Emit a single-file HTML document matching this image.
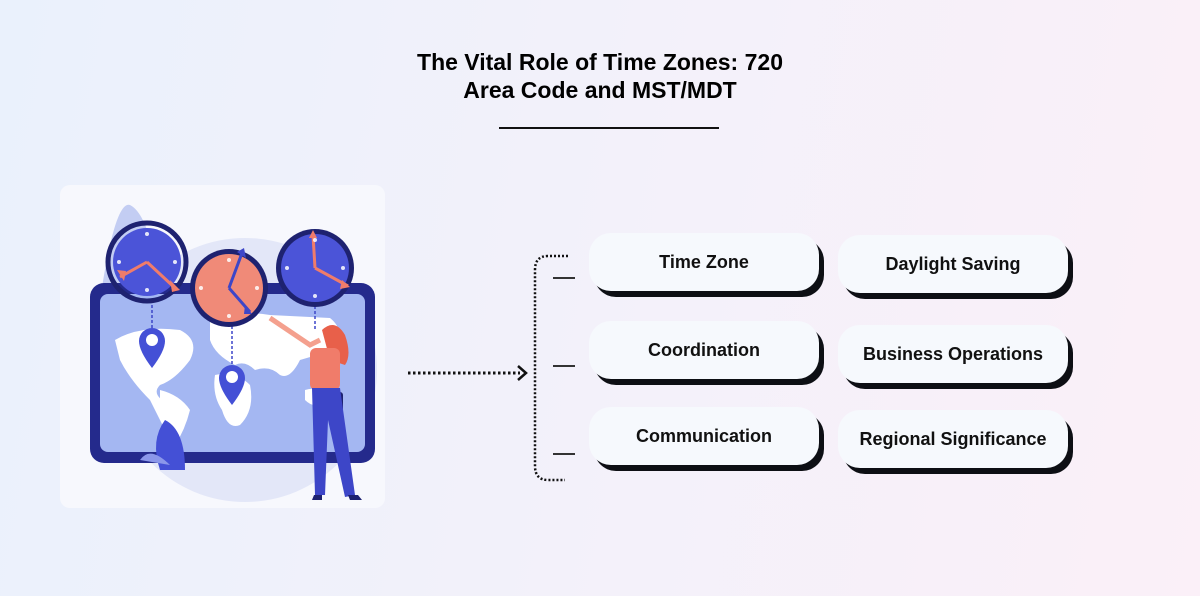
<!DOCTYPE html>
<html><head><meta charset="utf-8"><style>
html,body{margin:0;padding:0}
body{width:1200px;height:596px;position:relative;overflow:hidden;font-family:"Liberation Sans",sans-serif;
background:linear-gradient(100deg,#eaf1fc 0%,#f3f1fa 50%,#fbf0f8 100%);}
.t{position:absolute;left:0;width:1200px;text-align:center;font-weight:bold;font-size:23px;color:#000;line-height:28px;top:48px}
.ul{position:absolute;left:499px;top:127px;width:220px;height:2px;background:#111}
.card{position:absolute;left:60px;top:185px;width:325px;height:323px;background:#f7f8fd;border-radius:10px}
.b{position:absolute;width:230px;height:58px;background:#f6f9fd;border-radius:22px;box-shadow:5px 6px 0 #0d0f14;
display:flex;align-items:center;justify-content:center;font-size:18px;font-weight:bold;color:#111}
.d{position:absolute;left:553px;width:22px;height:1.5px;background:#333}
</style></head><body>
<div class="t">The Vital Role of Time Zones: 720<br>Area Code and MST/MDT</div>
<div class="ul"></div>
<div class="card"></div>
<svg style="position:absolute;left:0;top:0" width="1200" height="596">
<circle cx="245" cy="370" r="132" fill="#e3e7f8"/>
<path d="M100 300 Q115 200 130 205 Q150 215 160 290 Z" fill="#c3cdf3"/>
<rect x="90" y="283" width="285" height="180" rx="14" fill="#242a8c"/>
<rect x="100" y="294" width="265" height="158" rx="8" fill="#a4b7f2"/>
<g fill="#fff">
<path d="M115 340 Q140 325 180 330 Q200 340 190 360 Q175 380 160 385 Q150 395 170 405 Q185 420 170 440 Q160 420 150 400 Q130 380 120 360 Z"/>
<path d="M160 390 Q180 395 190 410 Q185 430 175 445 Q165 430 160 410 Z"/>
<path d="M210 320 Q240 310 270 315 L330 318 Q345 330 335 345 Q320 355 300 360 Q290 380 280 375 Q270 365 255 370 Q245 360 235 365 Q215 355 210 340 Z"/>
<path d="M215 375 Q235 370 250 385 Q255 410 240 425 Q228 430 222 410 Q212 395 215 375 Z"/>
<path d="M305 390 Q320 385 325 400 Q315 410 305 400 Z"/>
</g>
<line x1="152" y1="300" x2="152" y2="330" stroke="#3d46c8" stroke-width="1.5" stroke-dasharray="3,2"/>
<line x1="232" y1="326" x2="232" y2="365" stroke="#3d46c8" stroke-width="1.5" stroke-dasharray="3,2"/>
<line x1="315" y1="306" x2="315" y2="330" stroke="#3d46c8" stroke-width="1.5" stroke-dasharray="3,2"/>
<path d="M152 328 a13 13 0 0 1 13 13 q0 10 -13 27 q-13 -17 -13 -27 a13 13 0 0 1 13 -13z" fill="#4450d6"/><circle cx="152" cy="340" r="6" fill="#fff"/>
<path d="M232 365 a13 13 0 0 1 13 13 q0 10 -13 27 q-13 -17 -13 -27 a13 13 0 0 1 13 -13z" fill="#4450d6"/><circle cx="232" cy="377" r="6" fill="#fff"/>
<g fill="#dde1ff">
<circle cx="147" cy="234" r="2"/><circle cx="147" cy="290" r="2"/><circle cx="119" cy="262" r="2"/><circle cx="175" cy="262" r="2"/>
<circle cx="315" cy="240" r="2"/><circle cx="315" cy="296" r="2"/><circle cx="287" cy="268" r="2"/><circle cx="343" cy="268" r="2"/>
</g>
<circle cx="147" cy="262" r="39" fill="none" stroke="#1e2270" stroke-width="5"/>
<circle cx="147" cy="262" r="34" fill="#4b54d8"/>
<path d="M147 262 L120 277 M147 262 L175 288" stroke="#f07c6a" stroke-width="3"/>
<circle cx="229" cy="288" r="39" fill="#1e2270"/><circle cx="229" cy="288" r="34" fill="#f08a78"/>
<path d="M229 288 L242 253 M229 288 L250 312" stroke="#3d46c8" stroke-width="3"/>
<circle cx="315" cy="268" r="39" fill="#1e2270"/><circle cx="315" cy="268" r="34" fill="#4b54d8"/>
<path d="M315 268 L313 235 M315 268 L348 286" stroke="#f07c6a" stroke-width="3"/>
<g fill="#fff" opacity=".85">
<circle cx="147" cy="234" r="2"/><circle cx="147" cy="290" r="2"/><circle cx="119" cy="262" r="2"/><circle cx="175" cy="262" r="2"/>
<circle cx="315" cy="240" r="2"/><circle cx="315" cy="296" r="2"/><circle cx="287" cy="268" r="2"/><circle cx="343" cy="268" r="2"/>
<circle cx="229" cy="260" r="2"/><circle cx="229" cy="316" r="2"/><circle cx="201" cy="288" r="2"/><circle cx="257" cy="288" r="2"/>
</g>
<path d="M117 270 L124 281 L126 271 Z M170 280 L180 290 L172 292Z" fill="#f07c6a"/>
<path d="M237 252 L244 248 L246 258Z M245 305 L252 314 L244 314Z" fill="#3d46c8"/>
<path d="M309 238 L313 230 L317 238Z M342 280 L350 287 L340 289Z" fill="#f07c6a"/>
<path d="M160 470 Q150 440 165 420 Q185 430 185 470 Z" fill="#4450d6"/>
<path d="M140 460 Q150 445 170 465 Z" fill="#8b97ea"/>
<path d="M270 318 L310 345 L320 340" stroke="#f4a08e" stroke-width="5" fill="none"/>
<path d="M322 330 Q335 318 345 335 Q352 355 345 365 L330 360 Z" fill="#e8604a"/>
<rect x="310" y="348" width="30" height="42" rx="6" fill="#f07c6a"/>
<rect x="328" y="392" width="15" height="20" rx="3" fill="#1e2270"/>
<path d="M312 388 L340 388 L355 495 L345 497 L328 420 L325 495 L315 495 Z" fill="#3d46c8"/>
<path d="M314 495 L322 495 L322 500 L312 500 Z M348 495 L358 495 L362 500 L350 500Z" fill="#1e2270"/>
<line x1="408" y1="373" x2="520" y2="373" stroke="#111" stroke-width="3" stroke-dasharray="2.5,2.5"/>
<path d="M518 366 L526 373 L518 380" fill="none" stroke="#111" stroke-width="2.5"/>
<path d="M568 256 L548 256 Q535 256 535 270 L535 466 Q535 480 548 480 L565 480" fill="none" stroke="#111" stroke-width="2.5" stroke-dasharray="2,2"/>
</svg>
<div class="d" style="top:277px"></div><div class="d" style="top:365px"></div><div class="d" style="top:453px"></div>
<div class="b" style="left:589px;top:233px">Time Zone</div>
<div class="b" style="left:838px;top:235px">Daylight Saving</div>
<div class="b" style="left:589px;top:321px">Coordination</div>
<div class="b" style="left:838px;top:325px">Business Operations</div>
<div class="b" style="left:589px;top:407px">Communication</div>
<div class="b" style="left:838px;top:410px">Regional Significance</div>
</body></html>
